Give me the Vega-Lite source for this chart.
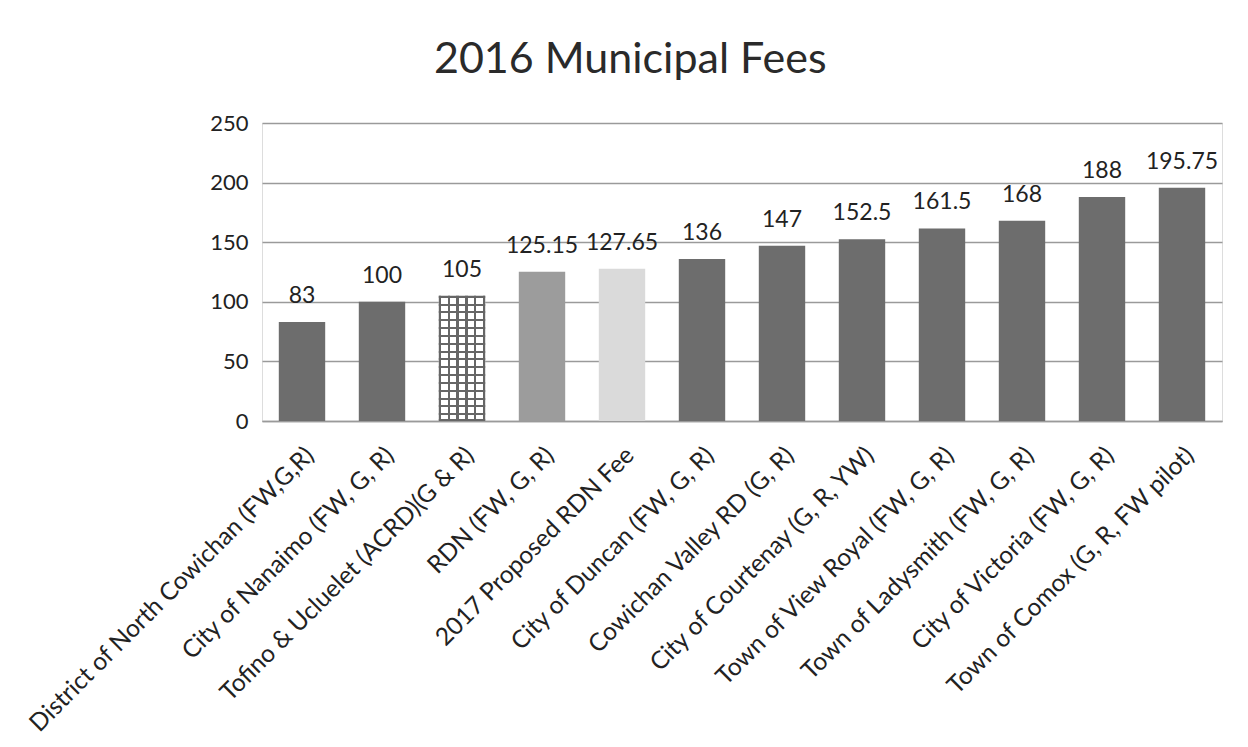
{
  "$schema": "https://vega.github.io/schema/vega-lite/v6.json",
  "autosize": {"type": "none"},
  "padding": {"left": 262, "top": 123, "right": 26, "bottom": 326},
  "width": 960,
  "height": 298,
  "background": "white",
  "title": {
    "text": "2016 Municipal Fees",
    "fontSize": 43,
    "font": "Lato",
    "fontWeight": "normal",
    "color": "#2a2a2a",
    "anchor": "middle",
    "frame": "bounds",
    "offset": 30,
    "dx": 7
  },
  "data": {
    "values": [
      {"name": "District of North Cowichan (FW,G,R)", "fee": 83, "group": "standard"},
      {"name": "City of Nanaimo (FW, G, R)", "fee": 100, "group": "standard"},
      {"name": "Tofino & Ucluelet  (ACRD)(G & R)", "fee": 105, "group": "pattern"},
      {"name": "RDN (FW, G, R)", "fee": 125.15, "group": "regional"},
      {"name": "2017 Proposed RDN Fee", "fee": 127.65, "group": "proposed"},
      {"name": "City of Duncan   (FW, G, R)", "fee": 136, "group": "standard"},
      {"name": "Cowichan Valley RD (G, R)", "fee": 147, "group": "standard"},
      {"name": "City of Courtenay (G, R, YW)", "fee": 152.5, "group": "standard"},
      {"name": "Town of View Royal (FW, G, R)", "fee": 161.5, "group": "standard"},
      {"name": "Town of Ladysmith (FW, G, R)", "fee": 168, "group": "standard"},
      {"name": "City of Victoria (FW, G, R)", "fee": 188, "group": "standard"},
      {"name": "Town of Comox (G, R, FW pilot)", "fee": 195.75, "group": "standard"}
    ]
  },
  "encoding": {
    "x": {
      "field": "name",
      "type": "nominal",
      "sort": null,
      "scale": {"paddingInner": 0.42, "paddingOuter": 0.21},
      "axis": {
        "title": null,
        "labelAngle": -45,
        "labelFontSize": 24.5,
        "labelFont": "Lato",
        "labelColor": "#222222",
        "labelLimit": 700,
        "labelPadding": 22,
        "ticks": false,
        "domain": true,
        "domainColor": "#9a9a9a",
        "domainWidth": 1.5
      }
    },
    "y": {
      "field": "fee",
      "type": "quantitative",
      "scale": {"domain": [0, 250]},
      "axis": {
        "title": null,
        "values": [0, 50, 100, 150, 200, 250],
        "labelFontSize": 22,
        "labelFont": "Lato",
        "labelColor": "#222222",
        "labelPadding": 14,
        "ticks": false,
        "domain": false,
        "gridColor": "#9a9a9a",
        "gridWidth": 1.5
      }
    }
  },
  "layer": [
    {
      "mark": {"type": "bar"},
      "encoding": {
        "color": {
          "field": "group",
          "type": "nominal",
          "scale": {
            "domain": ["standard", "pattern", "regional", "proposed"],
            "range": ["#6d6d6d", "#ffffff", "#9c9c9c", "#dadada"]
          },
          "legend": null
        }
      }
    },
    {
      "transform": [{"filter": "datum.group === 'pattern'"}],
      "mark": {
        "type": "bar",
        "fill": {
          "gradient": "linear",
          "x1": 0, "y1": 0, "x2": 1, "y2": 0,
          "stops": [
            {"offset": 0, "color": "#666666"},
            {"offset": 0.05, "color": "#666666"},
            {"offset": 0.05, "color": "#ffffff"},
            {"offset": 0.19, "color": "#ffffff"},
            {"offset": 0.19, "color": "#666666"},
            {"offset": 0.24, "color": "#666666"},
            {"offset": 0.24, "color": "#ffffff"},
            {"offset": 0.38, "color": "#ffffff"},
            {"offset": 0.38, "color": "#666666"},
            {"offset": 0.43, "color": "#666666"},
            {"offset": 0.43, "color": "#ffffff"},
            {"offset": 0.57, "color": "#ffffff"},
            {"offset": 0.57, "color": "#666666"},
            {"offset": 0.62, "color": "#666666"},
            {"offset": 0.62, "color": "#ffffff"},
            {"offset": 0.76, "color": "#ffffff"},
            {"offset": 0.76, "color": "#666666"},
            {"offset": 0.81, "color": "#666666"},
            {"offset": 0.81, "color": "#ffffff"},
            {"offset": 0.95, "color": "#ffffff"},
            {"offset": 0.95, "color": "#666666"},
            {"offset": 1, "color": "#666666"}
          ]
        }
      }
    },
    {
      "transform": [{"filter": "datum.group === 'pattern'"}],
      "mark": {
        "type": "bar",
        "fill": {
          "gradient": "linear",
          "x1": 0, "y1": 0, "x2": 0, "y2": 1,
          "stops": [
            {"offset": 0, "color": "#666666"},
            {"offset": 0.016, "color": "#666666"},
            {"offset": 0.016, "color": "rgba(255,255,255,0)"},
            {"offset": 0.0625, "color": "rgba(255,255,255,0)"},
            {"offset": 0.0625, "color": "#666666"},
            {"offset": 0.0785, "color": "#666666"},
            {"offset": 0.0785, "color": "rgba(255,255,255,0)"},
            {"offset": 0.125, "color": "rgba(255,255,255,0)"},
            {"offset": 0.125, "color": "#666666"},
            {"offset": 0.141, "color": "#666666"},
            {"offset": 0.141, "color": "rgba(255,255,255,0)"},
            {"offset": 0.1875, "color": "rgba(255,255,255,0)"},
            {"offset": 0.1875, "color": "#666666"},
            {"offset": 0.2035, "color": "#666666"},
            {"offset": 0.2035, "color": "rgba(255,255,255,0)"},
            {"offset": 0.25, "color": "rgba(255,255,255,0)"},
            {"offset": 0.25, "color": "#666666"},
            {"offset": 0.266, "color": "#666666"},
            {"offset": 0.266, "color": "rgba(255,255,255,0)"},
            {"offset": 0.3125, "color": "rgba(255,255,255,0)"},
            {"offset": 0.3125, "color": "#666666"},
            {"offset": 0.3285, "color": "#666666"},
            {"offset": 0.3285, "color": "rgba(255,255,255,0)"},
            {"offset": 0.375, "color": "rgba(255,255,255,0)"},
            {"offset": 0.375, "color": "#666666"},
            {"offset": 0.391, "color": "#666666"},
            {"offset": 0.391, "color": "rgba(255,255,255,0)"},
            {"offset": 0.4375, "color": "rgba(255,255,255,0)"},
            {"offset": 0.4375, "color": "#666666"},
            {"offset": 0.4535, "color": "#666666"},
            {"offset": 0.4535, "color": "rgba(255,255,255,0)"},
            {"offset": 0.5, "color": "rgba(255,255,255,0)"},
            {"offset": 0.5, "color": "#666666"},
            {"offset": 0.516, "color": "#666666"},
            {"offset": 0.516, "color": "rgba(255,255,255,0)"},
            {"offset": 0.5625, "color": "rgba(255,255,255,0)"},
            {"offset": 0.5625, "color": "#666666"},
            {"offset": 0.5785, "color": "#666666"},
            {"offset": 0.5785, "color": "rgba(255,255,255,0)"},
            {"offset": 0.625, "color": "rgba(255,255,255,0)"},
            {"offset": 0.625, "color": "#666666"},
            {"offset": 0.641, "color": "#666666"},
            {"offset": 0.641, "color": "rgba(255,255,255,0)"},
            {"offset": 0.6875, "color": "rgba(255,255,255,0)"},
            {"offset": 0.6875, "color": "#666666"},
            {"offset": 0.7035, "color": "#666666"},
            {"offset": 0.7035, "color": "rgba(255,255,255,0)"},
            {"offset": 0.75, "color": "rgba(255,255,255,0)"},
            {"offset": 0.75, "color": "#666666"},
            {"offset": 0.766, "color": "#666666"},
            {"offset": 0.766, "color": "rgba(255,255,255,0)"},
            {"offset": 0.8125, "color": "rgba(255,255,255,0)"},
            {"offset": 0.8125, "color": "#666666"},
            {"offset": 0.8285, "color": "#666666"},
            {"offset": 0.8285, "color": "rgba(255,255,255,0)"},
            {"offset": 0.875, "color": "rgba(255,255,255,0)"},
            {"offset": 0.875, "color": "#666666"},
            {"offset": 0.891, "color": "#666666"},
            {"offset": 0.891, "color": "rgba(255,255,255,0)"},
            {"offset": 0.9375, "color": "rgba(255,255,255,0)"},
            {"offset": 0.9375, "color": "#666666"},
            {"offset": 0.9535, "color": "#666666"},
            {"offset": 0.9535, "color": "rgba(255,255,255,0)"},
            {"offset": 0.984, "color": "rgba(255,255,255,0)"},
            {"offset": 0.984, "color": "#666666"},
            {"offset": 1, "color": "#666666"}
          ]
        }
      }
    },
    {
      "mark": {
        "type": "text",
        "font": "Lato",
        "fontSize": 23,
        "color": "#222222",
        "baseline": "alphabetic",
        "dy": -19
      },
      "encoding": {
        "text": {"field": "fee", "type": "quantitative"}
      }
    }
  ]
}
